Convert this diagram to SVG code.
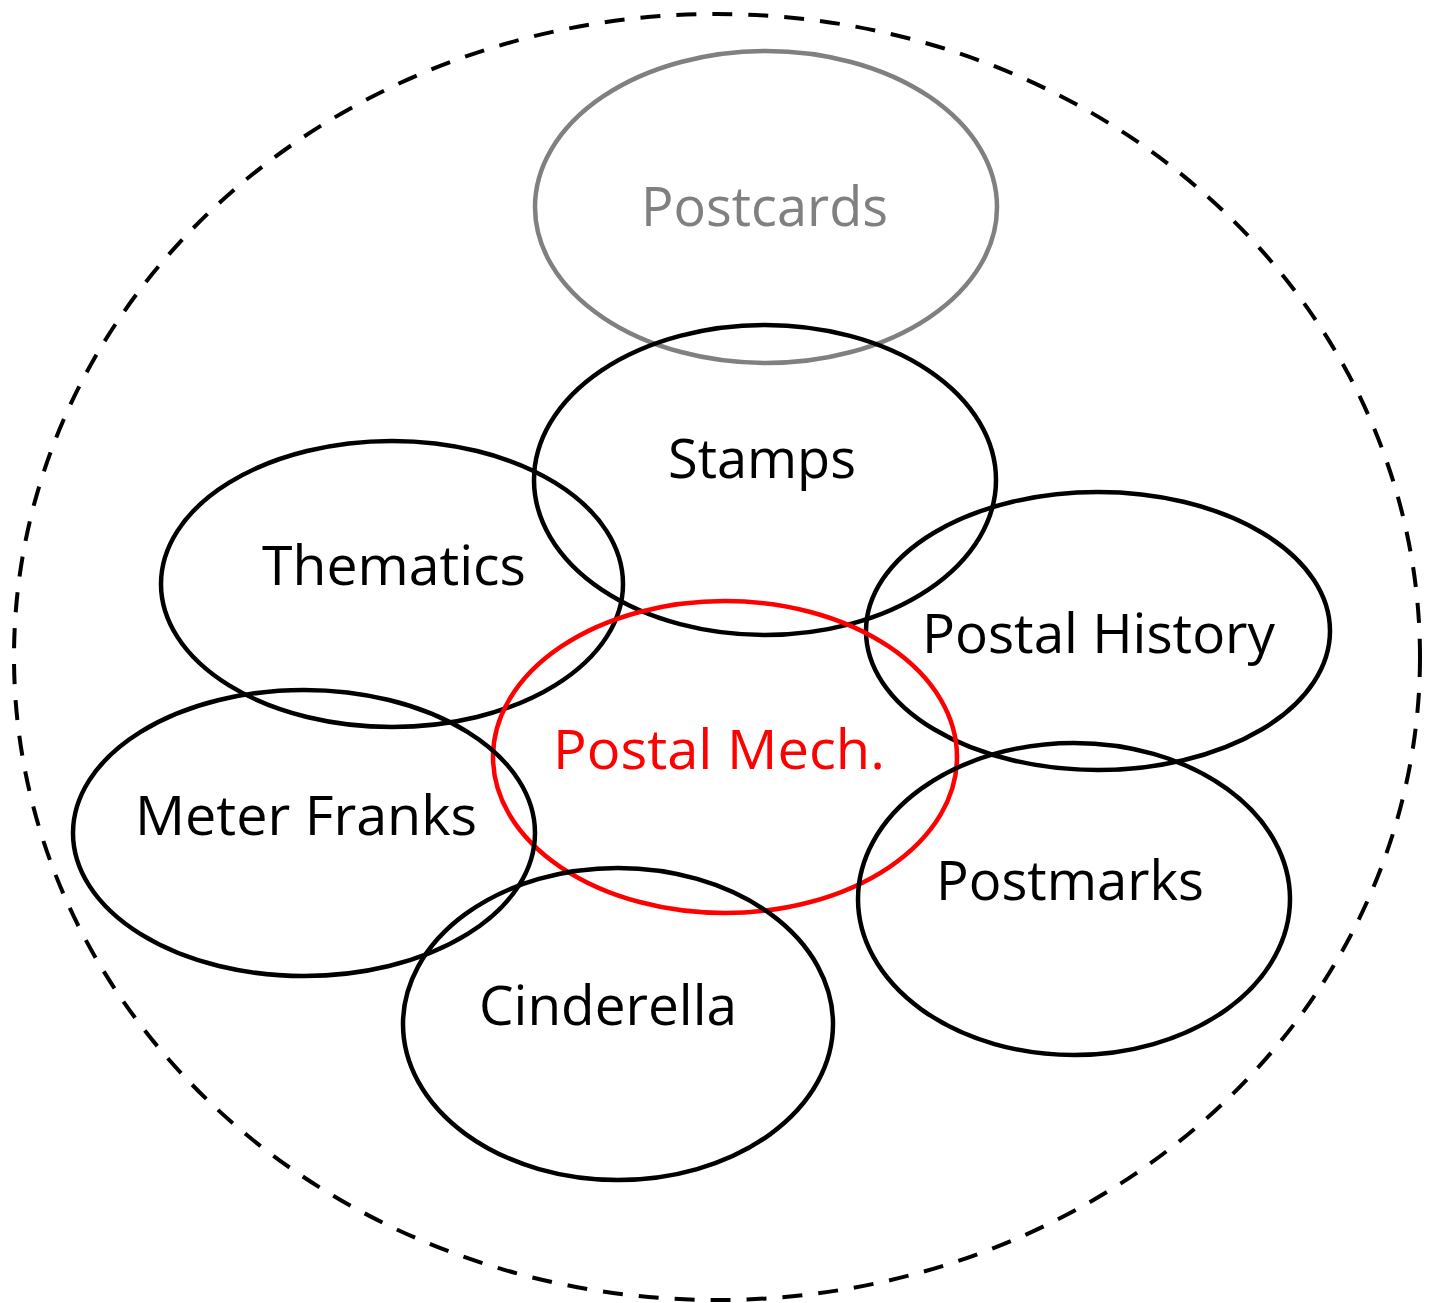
<svg xmlns="http://www.w3.org/2000/svg" width="1435" height="1303" viewBox="0 0 1435 1303">
<style>
.e{fill:none;stroke:#000;stroke-width:4.5}
.t{font-family:"Open Sans","Noto Sans",sans-serif;font-size:54px;text-anchor:middle;fill:#000}
</style>
<rect width="1435" height="1303" fill="#fff"/>
<g id="outer"><ellipse cx="717" cy="657" rx="703" ry="643" fill="none" stroke="#000" stroke-width="4" stroke-dasharray="20 16"/></g>
<g id="postcards"><ellipse class="e" cx="766" cy="207" rx="231" ry="156" style="stroke:#808080"/><text class="t" x="764.5" y="226" textLength="247" lengthAdjust="spacingAndGlyphs" style="fill:#808080">Postcards</text></g>
<g id="stamps"><ellipse class="e" cx="765" cy="480" rx="231" ry="155"/><text class="t" x="762" y="478" textLength="188" lengthAdjust="spacingAndGlyphs">Stamps</text></g>
<g id="thematics"><ellipse class="e" cx="392" cy="584" rx="231" ry="143"/><text class="t" x="394" y="585" textLength="264" lengthAdjust="spacingAndGlyphs">Thematics</text></g>
<g id="postal-history"><ellipse class="e" cx="1098" cy="631" rx="232" ry="139"/><text class="t" x="1098.5" y="653" textLength="353" lengthAdjust="spacingAndGlyphs">Postal History</text></g>
<g id="postal-mech"><ellipse class="e" cx="725" cy="757" rx="232" ry="156" style="stroke:#f00"/><text class="t" x="719" y="769" textLength="332" lengthAdjust="spacingAndGlyphs" style="fill:#f00">Postal Mech.</text></g>
<g id="meter-franks"><ellipse class="e" cx="304" cy="833" rx="231" ry="143"/><text class="t" x="306" y="835" textLength="342" lengthAdjust="spacingAndGlyphs">Meter Franks</text></g>
<g id="postmarks"><ellipse class="e" cx="1074" cy="899" rx="216" ry="156"/><text class="t" x="1070" y="900" textLength="268" lengthAdjust="spacingAndGlyphs">Postmarks</text></g>
<g id="cinderella"><ellipse class="e" cx="618" cy="1024" rx="215" ry="156"/><text class="t" x="608" y="1025" textLength="258" lengthAdjust="spacingAndGlyphs">Cinderella</text></g>
<g id="connectors"></g>
</svg>
